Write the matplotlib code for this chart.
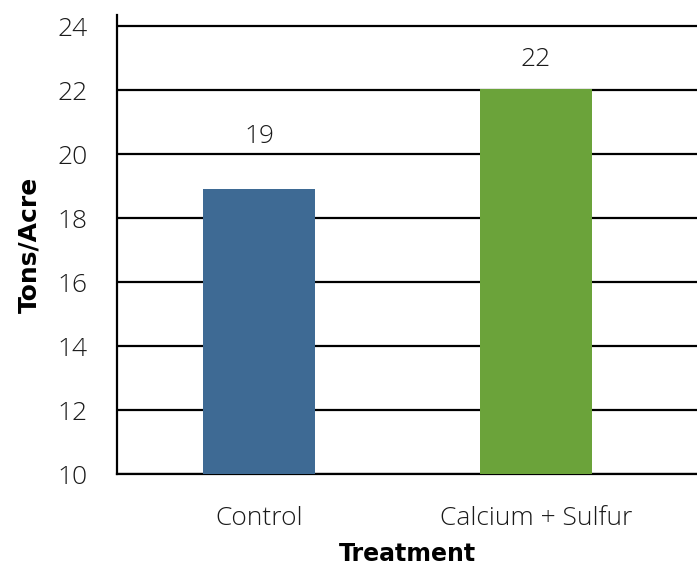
import matplotlib
matplotlib.use("Agg")
import matplotlib.pyplot as plt

treatments = ["Control", "Calcium + Sulfur"]
yields = [18.9, 22.05]
bar_colors = ["#3e6a94", "#6ba33a"]
label_offsets = [29, 12]  # points above bar top
y_ticks = [10, 12, 14, 16, 18, 20, 22, 24]

plt.rcParams["font.family"] = ["Open Sans", "DejaVu Sans"]
text_color = "#1a1a1a"

fig = plt.figure(figsize=(6.97, 5.67), dpi=100)
ax = fig.add_axes([0.168, 0.164, 0.832, 0.81])

x = list(range(len(treatments)))
ax.bar(x, yields, width=0.404, color=bar_colors, zorder=3)
for xi, v, off in zip(x, yields, label_offsets):
    ax.annotate(f"{v:.0f}", (xi, v), xytext=(0, off), textcoords="offset points",
                ha="center", va="bottom", fontsize=19, fontweight="light",
                color=text_color)

ax.set_ylim(10, 24.36)
ax.set_xlim(-0.513, 1.581)
ax.set_yticks(y_ticks)
ax.set_xticks(x)
ax.set_xticklabels(treatments)
ax.tick_params(length=0, labelsize=19, labelcolor=text_color)
ax.tick_params(axis="y", pad=21)
ax.tick_params(axis="x", pad=23)
for lbl in ax.get_xticklabels() + ax.get_yticklabels():
    lbl.set_fontweight("light")

ax.grid(axis="y", color="black", linewidth=1.6, zorder=1)
ax.set_axisbelow(True)
for side in ["top", "right"]:
    ax.spines[side].set_visible(False)
for side in ["left", "bottom"]:
    ax.spines[side].set_linewidth(1.6)

ax.set_xlabel("Treatment", fontsize=17, fontweight="bold", family="DejaVu Sans",
              labelpad=8)
ax.set_ylabel("Tons/Acre", fontsize=18, fontweight="bold", family="DejaVu Sans",
              labelpad=12)

fig.savefig("out.png", dpi=100)
